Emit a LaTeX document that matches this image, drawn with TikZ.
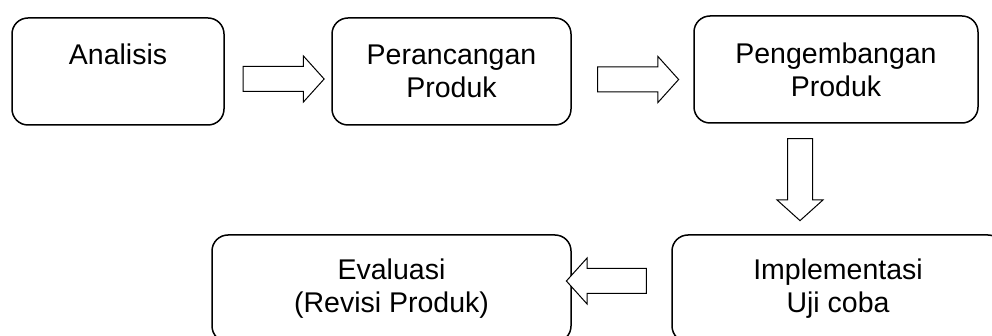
\documentclass[tikz,border=0pt]{standalone}
\usepackage{fontspec}
\setmainfont{Liberation Sans}
\usetikzlibrary{shapes.arrows,calc}

\tikzset{
  stage/.style={draw=black, line width=1.5pt, rounded corners=16pt,
    align=center, inner sep=0pt, minimum height=107pt,
    font=\fontsize{28.5}{33}\selectfont},
  flow/.style={single arrow, draw=black, fill=white, line width=1pt,
    inner xsep=0pt, inner ysep=12pt, single arrow head extend=10.5pt,
    single arrow tip angle=96, single arrow head indent=0pt,
    minimum height=81pt},
}

\begin{document}
\begin{tikzpicture}[x=1pt, y=-1pt]
  \useasboundingbox (0,0) rectangle (992,336);

  % process stages
  \node[stage, minimum width=212pt] (ana) at (118,71.5) {Analisis\\[1pt]\mbox{}};
  \node[stage, minimum width=239pt] (per) at (451.5,71.5) {Perancangan\\Produk};
  \node[stage, minimum width=284pt] (pen) at (836,69.5) {Pengembangan\\Produk};
  \node[stage, minimum width=332pt] (imp) at (838,288.5) {Implementasi\\Uji coba};
  \node[stage, minimum width=359pt] (eva) at (391.5,288.5) {Evaluasi\\(Revisi Produk)};

  % block arrows between the stages
  \node[flow] (f1) at ($(ana.east)!0.5!(per.west)+(0,7.5)$) {};
  \node[flow] (f2) at ($(per.east)!0.5!(pen.west)+(0,9)$) {};
  \node[flow, rotate=-90, minimum height=82pt] (f3) at ($(pen.south)!0.5!(imp.north)+(-37,-5)$) {};
  \node[flow, rotate=180, minimum height=80pt] (f4) at ($(eva.east)!0.5!(imp.west)+(-9.5,-7.5)$) {};
\end{tikzpicture}
\end{document}
